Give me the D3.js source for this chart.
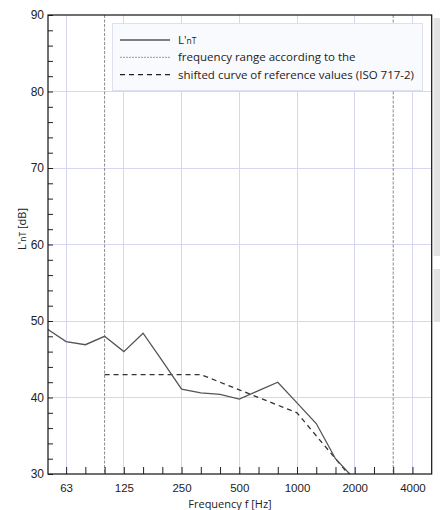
<!DOCTYPE html>
<html>
<head>
<meta charset="utf-8">
<title>L'nT</title>
<style>
  body { margin: 0; background: #fff; font-family: "Open Sans", "Noto Sans", sans-serif; }
  svg { display: block; }
  .grid line { stroke: #d6d6f2; stroke-width: 1; shape-rendering: crispEdges; }
  .tick text { font-size: 11.5px; fill: #222; }
</style>
</head>
<body>
<svg width="440" height="510"></svg>
<script src="https://d3js.org/d3.v7.min.js"></script>
<script>

// third-octave bands (nominal Hz)
var bands = [50, 63, 80, 100, 125, 160, 200, 250, 315, 400, 500, 630, 800, 1000, 1250, 1600, 2000];
var lnt = [49.0, 47.3, 46.9, 48.0, 46.0, 48.4, 44.8, 41.1, 40.6, 40.4, 39.8, 40.9, 42.0, 39.3, 36.6, 32.0, 29.3];

var refBands = [100, 125, 160, 200, 250, 315, 400, 500, 630, 800, 1000, 1250, 1600, 2000, 2500, 3150];
var refShifted = [43, 43, 43, 43, 43, 43, 42, 41, 40, 39, 38, 35, 32, 29, 26, 23];

var rangeLimits = [100, 3150];
var octaveLabels = [63, 125, 250, 500, 1000, 2000, 4000];
var tickBands = [63, 80, 100, 125, 160, 200, 250, 315, 400, 500, 630, 800, 1000, 1250, 1600, 2000, 2500, 3150, 4000];
var yMajor = [30, 40, 50, 60, 70, 80, 90];
var legendItems = ["L'nT", "frequency range according to the", "shifted curve of reference values (ISO 717-2)"];

// nominal band -> exact base-10 third-octave frequency
function exact(f) { return Math.pow(10, Math.round(10 * Math.log10(f)) / 10); }

var svg = d3.select("svg"),
  margin = {top: 15, right: 8.3, bottom: 36, left: 48},
  width = 440 - margin.left - margin.right,
  height = 510 - margin.top - margin.bottom,
  g = svg.append("g").attr("transform", "translate(" + margin.left + "," + margin.top + ")");

var x = d3.scaleLog().domain([50.8, 5012]).range([0, width]);
var y = d3.scaleLinear().domain([30, 90]).range([height, 0]);

// scrollbar-ish panels at the right edge
svg.append("rect").attr("x", 433.5).attr("y", 18).attr("width", 7).attr("height", 238).attr("fill", "#e2e2e2");
svg.append("rect").attr("x", 433.5).attr("y", 269).attr("width", 7).attr("height", 53).attr("fill", "#e2e2e2");

// grid
var grid = g.append("g").attr("class", "grid");
grid.selectAll(".v").data(octaveLabels).enter().append("line")
  .attr("x1", function(d) { return x(exact(d)); })
  .attr("x2", function(d) { return x(exact(d)); })
  .attr("y1", 0).attr("y2", height);
grid.selectAll(".h").data(yMajor.slice(1, -1)).enter().append("line")
  .attr("x1", 0).attr("x2", width)
  .attr("y1", function(d) { return y(d); })
  .attr("y2", function(d) { return y(d); });

// frequency range limits
g.append("g").selectAll("line").data(rangeLimits).enter().append("line")
  .attr("x1", function(d) { return x(exact(d)); })
  .attr("x2", function(d) { return x(exact(d)); })
  .attr("y1", 0).attr("y2", height)
  .attr("stroke", "#8a8a8a").attr("stroke-width", 1)
  .attr("stroke-dasharray", "3,1.5");

svg.append("clipPath").attr("id", "plotclip")
  .append("rect").attr("width", width).attr("height", height);

var line = d3.line()
  .x(function(d) { return x(exact(d[0])); })
  .y(function(d) { return y(d[1]); });

var plot = g.append("g").attr("clip-path", "url(#plotclip)");

plot.append("path")
  .datum(d3.zip(refBands, refShifted))
  .attr("d", line)
  .attr("fill", "none")
  .attr("stroke", "#333")
  .attr("stroke-width", 1.3)
  .attr("stroke-dasharray", "5,4");

plot.append("path")
  .datum(d3.zip(bands, lnt))
  .attr("d", line)
  .attr("fill", "none")
  .attr("stroke", "#555")
  .attr("stroke-width", 1.3);

// axes
var xAxis = g.append("g")
  .attr("transform", "translate(0," + height + ")")
  .call(d3.axisBottom(x).tickValues(tickBands.map(exact)).tickSizeInner(-7).tickSizeOuter(0)
    .tickFormat(function(d) {
      var n = tickBands[tickBands.map(exact).indexOf(d)];
      return octaveLabels.indexOf(n) >= 0 ? n : "";
    }));
xAxis.select(".domain").remove();
xAxis.selectAll(".tick text").attr("dy", "1.3em");
xAxis.selectAll(".tick line").attr("stroke", "#222");

var yAxis = g.append("g")
  .call(d3.axisLeft(y).tickValues(d3.range(30, 91, 2)).tickSizeInner(-5).tickSizeOuter(0)
    .tickFormat(function(d) { return d % 10 === 0 ? d : ""; }));
yAxis.select(".domain").remove();
yAxis.selectAll(".tick text").attr("x", -4).style("font-size", "12px");
yAxis.selectAll(".tick line").attr("stroke", "#222");

// frame
g.append("rect").attr("width", width).attr("height", height)
  .attr("fill", "none").attr("stroke", "#111").attr("stroke-width", 1.2);

// axis titles
svg.append("text")
  .attr("x", 230).attr("y", 508)
  .attr("text-anchor", "middle")
  .attr("font-size", 11).attr("fill", "#222")
  .text("Frequency f [Hz]");

var yl = svg.append("text")
  .attr("transform", "translate(26,229) rotate(-90)")
  .attr("text-anchor", "middle")
  .attr("font-size", 11).attr("fill", "#222");
yl.append("tspan").text("L'");
yl.append("tspan").attr("font-size", 8.5).text("nT");
yl.append("tspan").text(" [dB]");

// legend
var lg = svg.append("g");
lg.append("rect").attr("x", 112.5).attr("y", 23.5).attr("width", 310).attr("height", 67)
  .attr("fill", "#f9fafd").attr("stroke", "#dde0ee");

var styles = [
  {stroke: "#555", dash: null, w: 1.3},
  {stroke: "#9a9a9a", dash: "2,1", w: 1},
  {stroke: "#222", dash: "5,4", w: 1.3}
];
var rows = lg.selectAll(".row").data(legendItems).enter().append("g")
  .attr("transform", function(d, i) { return "translate(0," + (40 + i * 17.3) + ")"; });
rows.append("line")
  .attr("x1", 120).attr("x2", 170)
  .attr("stroke", function(d, i) { return styles[i].stroke; })
  .attr("stroke-width", function(d, i) { return styles[i].w; })
  .attr("stroke-dasharray", function(d, i) { return styles[i].dash; });
rows.append("text")
  .attr("x", 178).attr("y", 4)
  .attr("font-size", 11.5).attr("fill", "#222")
  .each(function(d, i) {
    var t = d3.select(this);
    if (i === 0) {
      t.append("tspan").text("L'");
      t.append("tspan").attr("font-size", 8.5).text("nT");
    } else {
      t.text(d);
    }
  });

</script>
</body>
</html>
